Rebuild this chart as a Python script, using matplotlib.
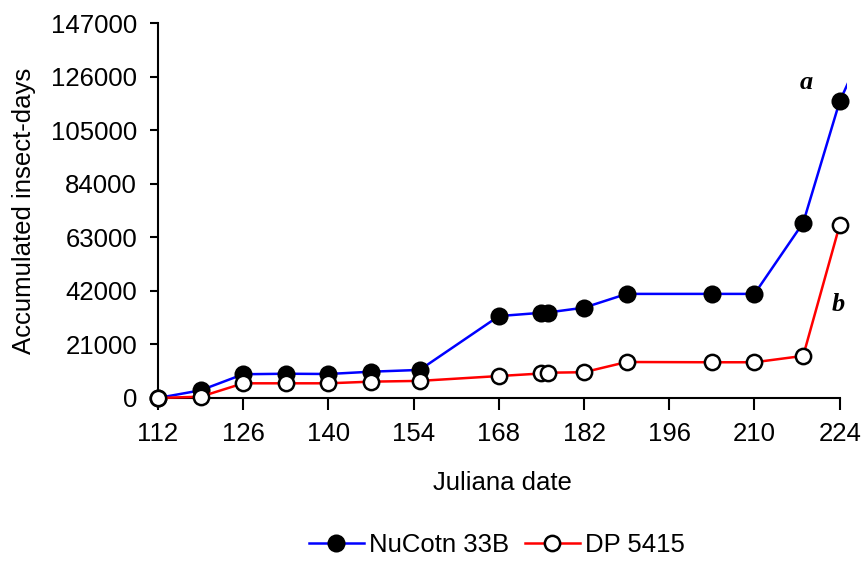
import matplotlib.pyplot as plt

plt.rcParams['font.family'] = ['Liberation Sans', 'DejaVu Sans']

# Julian dates of the sampling
dates = [112, 119, 126, 133, 140, 147, 155, 168, 175, 176, 182, 189, 203, 210, 218, 224]

# accumulated insect-days
nucotn = [0, 3000, 9300, 9500, 9400, 10300, 11000, 32100, 33400, 33500,
          35400, 40800, 40800, 40800, 68700, 116300]
dp5415 = [0, 500, 5750, 5750, 5750, 6400, 6700, 8600, 9600, 9900,
          10100, 14100, 14000, 14000, 16500, 67800]

# next sample lies past the axis end, only the start of the segment shows
next_date = 231
nucotn_next = 153000
dp5415_next = 78000

y_ticks = list(range(0, 147001, 21000))
x_ticks = list(range(112, 225, 14))

fig = plt.figure(figsize=(8.65, 5.61), dpi=100)
ax = fig.add_axes([0.1827, 0.2906, 0.7965, 0.6684])

# continuation segments (clipped at the plot edge)
ax.plot([dates[-1], next_date], [nucotn[-1], nucotn_next], color='blue', lw=1.8)
ax.plot([dates[-1], next_date], [dp5415[-1], dp5415_next], color='red', lw=1.8)

ax.plot(dates, nucotn, color='blue', lw=1.8, marker='o', ms=11.5,
        mfc='black', mec='black', mew=1.5, label='NuCotn 33B', clip_on=False, zorder=3)
ax.plot(dates, dp5415, color='red', lw=1.8, marker='o', ms=11,
        mfc='white', mec='black', mew=1.8, label='DP 5415', clip_on=False, zorder=3)

ax.set_xlim(112, 225.2)
ax.set_ylim(0, 147000)
ax.spines['bottom'].set_bounds(112, 224)
ax.spines['top'].set_visible(False)
ax.spines['right'].set_visible(False)
for s in ['left', 'bottom']:
    ax.spines[s].set_linewidth(1.5)

ax.set_xticks(x_ticks)
ax.set_yticks(y_ticks)
ax.set_yticklabels([str(v) for v in y_ticks])
ax.tick_params(axis='x', direction='out', length=8.5, width=1.5, pad=9, labelsize=18.5)
ax.tick_params(axis='y', direction='out', length=6, width=1.5, pad=9, labelsize=18.5)

ax.set_xlabel('Juliana date', fontsize=18.5, labelpad=18)
ax.set_ylabel('Accumulated insect-days', fontsize=18.5, labelpad=10.5)

ax.text(218.5, 123500, 'a', family='Liberation Serif', style='italic',
        weight='bold', fontsize=19, ha='center', va='center')
ax.text(223.7, 36500, 'b', family='Liberation Serif', style='italic',
        weight='bold', fontsize=19, ha='center', va='center')

fig.legend(loc='center', bbox_to_anchor=(0.5745, 0.0285), ncol=2, frameon=False,
           fontsize=18.5, handlelength=2.14, handletextpad=0.23, columnspacing=0.58)

fig.savefig('out.png', dpi=100)
